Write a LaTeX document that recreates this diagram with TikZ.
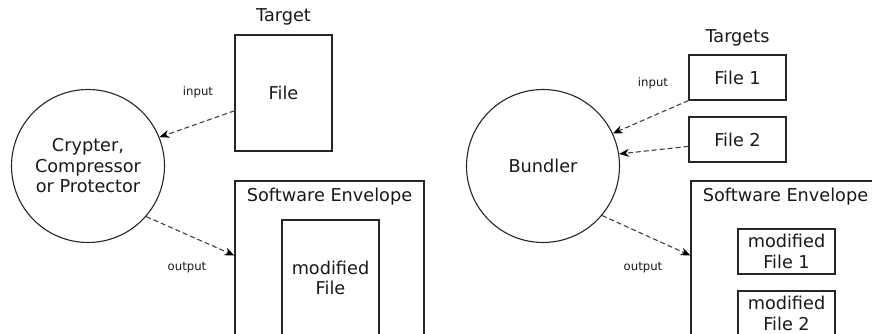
\documentclass[tikz,border=0pt]{standalone}
\usepackage{fontspec}
\setmainfont{DejaVu Sans}
\usetikzlibrary{positioning}
\usetikzlibrary{arrows.meta}
\usetikzlibrary{shapes.geometric}

\begin{document}
\begin{tikzpicture}[x=1pt,y=-1pt]
	\tikzset{
		box/.style = {draw=black!85, line width=1.1pt, shape=rectangle, text=black!90, inner sep=2pt, align=center, font=\fontsize{17.7}{20.5}\selectfont},
		tool/.style = {draw=black!85, line width=1.1pt, shape=circle, minimum size=153pt, inner sep=0pt, text=black!90, align=center, font=\fontsize{17.7}{20.5}\selectfont},
		flow/.style = {draw=black!75, line width=1.1pt, dash pattern=on 5pt off 3pt, -{Stealth[length=10pt,width=8pt,black]}},
		caption/.style = {inner sep=0pt, text=black!90, font=\fontsize{17.7}{20.5}\selectfont},
		tag/.style = {inner sep=0pt, text=black!90, font=\fontsize{11.7}{14}\selectfont}
		}
	\clip (0,0) rectangle (872,334);

	\path 	(88,166) node [name=crypter, tool] {Crypter,\\Compressor\\or Protector}
			(283.5,93) node [name=file, box, minimum width=97pt, minimum height=116pt] {File}
			(329.5,281) node [name=envelope, box, minimum width=189pt, minimum height=200pt] {}
			(330.5,278) node [name=modfile, box, minimum width=97pt, minimum height=116pt] {modified\\File};
	\path	(file) node [caption, above=9pt of file] {Target}
			(envelope) node [caption, below=7pt of envelope.north] {Software Envelope}
			(198,92) node [name=input, tag] {input}
			(187,268) node [name=output, tag] {output};

	\draw[flow] (file.200) -- (crypter.22);
	\draw[flow] (crypter.-41) -- (envelope.165.75);

	\path 	(543,166) node [name=bundler, tool] {Bundler}
			(737.5,77.5) node [name=fileone, box, minimum width=97pt, minimum height=45pt] {File 1}
			(737.5,139.5) node [name=filetwo, box, minimum width=97pt, minimum height=45pt] {File 2}
			(785.5,281) node [name=bundle, box, minimum width=189pt, minimum height=200pt] {}
			(786.5,251.5) node [name=modone, box, minimum width=97pt, minimum height=45pt] {modified\\File 1}
			(786.5,313.5) node [name=modtwo, box, minimum width=97pt, minimum height=45pt] {modified\\File 2};
	\path	(fileone) node [caption, above=8pt of fileone] {Targets}
			(bundle) node [caption, below=7pt of bundle.north] {Software Envelope}
			(653,83) node [name=inputs, tag] {input}
			(643,268) node [name=outputs, tag] {output};

	\draw[flow] (fileone.south west) -- (bundler.25);
	\draw[flow] (filetwo.188) -- (bundler.9);
	\draw[flow] (bundler.-40) -- (bundle.165.75);

\end{tikzpicture}
\end{document}
